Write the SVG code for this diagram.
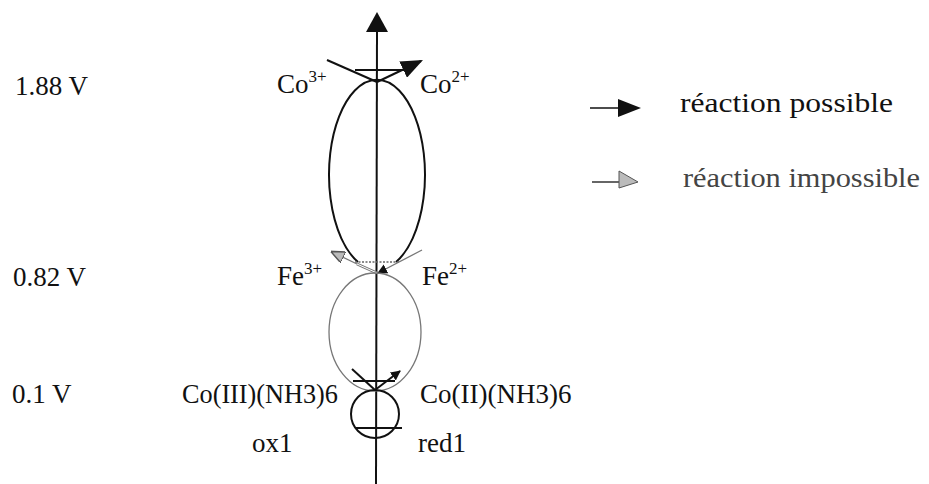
<svg xmlns="http://www.w3.org/2000/svg" width="929" height="484" viewBox="0 0 929 484">
<style>
  text { font-family: "Liberation Serif", "Times New Roman", serif; fill: #111; }
  .lbl { font-size: 27px; }
  .sup { font-size: 17px; }
  .blk { stroke: #111; fill: none; stroke-width: 2; }
  .thin { stroke: #111; fill: none; stroke-width: 1.5; }
  .gray { stroke: #777; fill: none; stroke-width: 1.3; }
  .dot { stroke: #666; fill: none; stroke-width: 1.5; stroke-dasharray: 2 1.5; }
</style>
<defs>
  <marker id="full" viewBox="0 0 10 10" refX="9" refY="5" markerWidth="10" markerHeight="10" markerUnits="userSpaceOnUse" orient="auto">
    <path d="M0,0 L10,5 L0,10 Z" fill="#111"/>
  </marker>
  <marker id="fullBig" viewBox="0 0 10 10" refX="9" refY="5" markerWidth="22" markerHeight="18" markerUnits="userSpaceOnUse" orient="auto" preserveAspectRatio="none">
    <path d="M0,0 L10,5 L0,10 Z" fill="#111"/>
  </marker>
  <marker id="hollow" viewBox="0 0 10 10" refX="9" refY="5" markerWidth="14" markerHeight="12" markerUnits="userSpaceOnUse" orient="auto" preserveAspectRatio="none">
    <path d="M0,0 L10,5 L0,10 Z" fill="#bbb" stroke="#555" stroke-width="1.2"/>
  </marker>
</defs>

<g id="connectors">
  <!-- vertical potential axis -->
  <line x1="377" y1="30" x2="376" y2="484" class="blk"/>
  <polygon points="377,12 366,32 388,32" fill="#111"/>

  <!-- Co3+/Co2+ couple -->
  <line x1="355" y1="70" x2="407" y2="70" class="blk"/>
  <line x1="327" y1="60" x2="377" y2="82" class="blk"/>
  <line x1="377" y1="82" x2="421" y2="61" class="blk" marker-end="url(#fullBig)"/>
  <path d="M358,262 A48,95 0 1 1 396,262" class="blk"/>

  <!-- Fe3+/Fe2+ couple -->
  <line x1="355" y1="262" x2="400" y2="262" class="dot"/>
  <line x1="377" y1="273" x2="357" y2="264" stroke="#777" stroke-width="3"/>
  <line x1="377" y1="273" x2="357" y2="264" stroke="#fff" stroke-width="1"/>
  <line x1="357" y1="264" x2="332" y2="252" class="gray" marker-end="url(#hollow)"/>
  <line x1="422" y1="250" x2="378" y2="273" class="gray" marker-end="url(#full)"/>
  <ellipse cx="375" cy="332" rx="46" ry="59" class="gray"/>

  <!-- Co(III)/Co(II) couple -->
  <line x1="353" y1="381" x2="395" y2="381" class="blk"/>
  <line x1="352" y1="369" x2="375" y2="390" class="blk"/>
  <line x1="375" y1="390" x2="400" y2="371" class="blk" marker-end="url(#full)"/>
  <circle cx="375" cy="414" r="24" class="blk"/>
  <line x1="355" y1="428" x2="402" y2="428" class="blk"/>
</g>

<g id="potentials">
  <text x="15" y="95" class="lbl">1.88 V</text>
  <text x="13" y="286" class="lbl">0.82 V</text>
  <text x="12" y="403" class="lbl">0.1  V</text>
</g>

<g id="node-co3">
  <text x="277" y="93" class="lbl">Co<tspan class="sup" dy="-11">3+</tspan></text>
</g>
<g id="node-co2">
  <text x="420" y="93" class="lbl">Co<tspan class="sup" dy="-11">2+</tspan></text>
</g>
<g id="node-fe3">
  <text x="277" y="285" class="lbl">Fe<tspan class="sup" dy="-11">3+</tspan></text>
</g>
<g id="node-fe2">
  <text x="422" y="285" class="lbl">Fe<tspan class="sup" dy="-11">2+</tspan></text>
</g>
<g id="node-co3nh3">
  <text x="182" y="403" class="lbl" textLength="156" lengthAdjust="spacingAndGlyphs">Co(III)(NH3)6</text>
</g>
<g id="node-co2nh3">
  <text x="420" y="403" class="lbl">Co(II)(NH3)6</text>
</g>
<g id="node-ox1">
  <text x="252" y="452" class="lbl">ox1</text>
</g>
<g id="node-red1">
  <text x="418" y="452" class="lbl">red1</text>
</g>

<g id="legend">
  <line x1="590" y1="108" x2="622" y2="108" class="thin"/>
  <polygon points="618,99 641,108 618,117" fill="#111"/>
  <text x="680" y="112" style="font-size:28px" textLength="213" lengthAdjust="spacingAndGlyphs">réaction possible</text>
  <line x1="592" y1="182" x2="620" y2="182" stroke="#333" stroke-width="1.5"/>
  <polygon points="619,171 638,182 619,188" fill="#bbb" stroke="#555" stroke-width="1"/>
  <text x="683" y="187" style="font-size:28px; fill:#444" textLength="237" lengthAdjust="spacingAndGlyphs">réaction impossible</text>
</g>
</svg>
